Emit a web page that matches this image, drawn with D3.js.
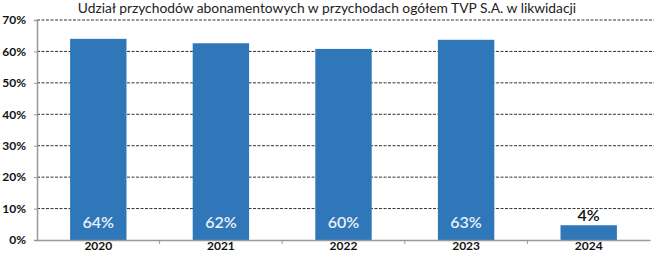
<!DOCTYPE html>
<html><head><meta charset="utf-8">
<script src="https://cdn.jsdelivr.net/npm/d3@7"></script>
<style>body{margin:0;background:#fff}svg{display:block}</style>
</head><body>
<script>
const categories = ["2020","2021","2022","2023","2024"];
const values = [64.0, 62.6, 60.8, 63.7, 4.7];
const valueLabels = ["64%","62%","60%","63%","4%"];
const yTicks = [0,10,20,30,40,50,60,70];
const title = "Udział przychodów abonamentowych w przychodach ogółem TVP S.A. w likwidacji";

const W=654,H=255;
const svg=d3.select("body").append("svg").attr("width",W).attr("height",H);
const font="Lato, 'Open Sans', sans-serif";
const x=d3.scaleBand().domain(categories).range([37,650]).paddingInner(0.54).paddingOuter(0.27);
const y=d3.scaleLinear().domain([0,70]).range([240,20]);

svg.append("text").attr("x",327).attr("y",13).attr("text-anchor","middle")
  .attr("font-family",font).attr("font-size",13.8).attr("fill","#222").text(title);

// gridlines
svg.append("g").selectAll("line").data(yTicks.filter(d=>d>0)).join("line")
  .attr("x1",37).attr("x2",654).attr("y1",d=>y(d)).attr("y2",d=>y(d))
  .attr("stroke","#333").attr("stroke-width",1).attr("stroke-dasharray","3,1.5");

// y axis
const ya=svg.append("g").attr("transform","translate(37,0)")
  .call(d3.axisLeft(y).tickValues(yTicks).tickSize(3).tickFormat(d=>d+"%"));
ya.select(".domain").attr("stroke","#999").attr("stroke-width",1.5);
ya.selectAll(".tick line").attr("stroke","#999");
ya.selectAll("text").attr("font-family",font).attr("font-weight","bold").attr("font-size",12).attr("fill","#111").attr("x",-11);

// bars
svg.append("g").selectAll("rect").data(values).join("rect")
  .attr("x",(d,i)=>x(categories[i])).attr("width",x.bandwidth())
  .attr("y",d=>y(d)).attr("height",d=>y(0)-y(d)).attr("fill","#2f77b8");

// x axis
const xa=svg.append("g").attr("transform","translate(0,240)")
  .call(d3.axisBottom(x).tickSize(0).tickSizeOuter(0));
xa.select(".domain").attr("stroke","#999").attr("stroke-width",1.5);
xa.selectAll("text").attr("font-family",font).attr("font-weight","bold").attr("font-size",12).attr("fill","#111").attr("dy","0.2em").attr("y",8);
// boundary ticks
const bounds=categories.slice(1).map(c=>x(c)-x.step()*x.paddingInner()/2);
svg.append("g").selectAll("line").data(bounds).join("line")
  .attr("x1",d=>d).attr("x2",d=>d).attr("y1",240).attr("y2",244).attr("stroke","#999");

// value labels
svg.append("g").selectAll("text").data(values).join("text")
  .attr("x",(d,i)=>x(categories[i])+x.bandwidth()/2)
  .attr("y",d=>d>15?228:y(d)-4)
  .attr("text-anchor","middle").attr("font-family",font).attr("font-size",16).attr("font-weight",600)
  .attr("fill",d=>d>15?"#e8f0f8":"#111")
  .text((d,i)=>valueLabels[i]);
</script>
</body></html>
